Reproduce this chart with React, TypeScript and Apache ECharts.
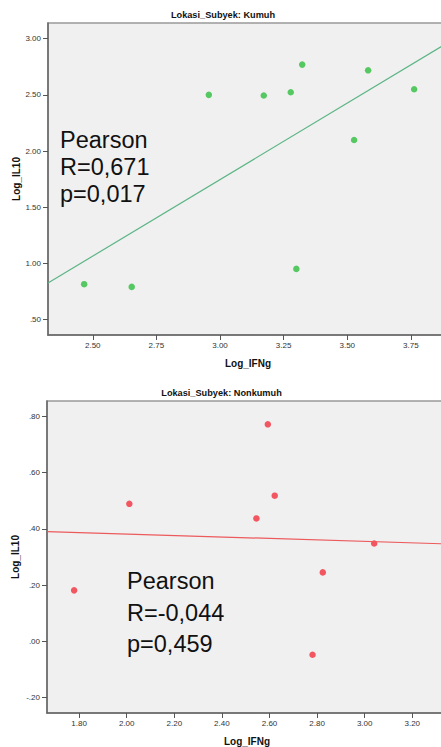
import React, { useEffect, useRef } from "react";
import * as echarts from "echarts";

// ---- Data ----
const kumuhIFNg = [2.956, 3.172, 3.278, 3.323, 3.582, 3.763, 3.527, 2.466, 2.653, 3.3];
const kumuhIL10 = [2.5, 2.494, 2.523, 2.769, 2.718, 2.55, 2.098, 0.816, 0.792, 0.952];
const nonkumuhIFNg = [2.011, 2.593, 2.622, 2.545, 3.04, 1.779, 2.824, 2.781];
const nonkumuhIL10 = [0.489, 0.772, 0.518, 0.437, 0.348, 0.181, 0.245, -0.048];

const kumuhXTicks = [2.5, 2.75, 3.0, 3.25, 3.5, 3.75];
const kumuhYTicks = [0.5, 1.0, 1.5, 2.0, 2.5, 3.0];
const nonkumuhXTicks = [1.8, 2.0, 2.2, 2.4, 2.6, 2.8, 3.0, 3.2];
const nonkumuhYTicks = [-0.2, 0.0, 0.2, 0.4, 0.6, 0.8];

const kumuhXRange = [2.324, 3.896];
const kumuhYRange = [0.364, 3.139];
const nonkumuhXRange = [1.665, 3.346];
const nonkumuhYRange = [-0.2555, 0.855];

const titles = ["Lokasi_Subyek: Kumuh", "Lokasi_Subyek: Nonkumuh"];
const statsKumuh = ["Pearson", "R=0,671", "p=0,017"];
const statsNonkumuh = ["Pearson", "R=-0,044", "p=0,459"];

const FONT = '"Liberation Sans", Arial, Helvetica, sans-serif';

function fit(xs: number[], ys: number[]) {
  const n = xs.length;
  const mx = xs.reduce((a, b) => a + b, 0) / n;
  const my = ys.reduce((a, b) => a + b, 0) / n;
  let sxy = 0;
  let sxx = 0;
  for (let i = 0; i < n; i++) {
    sxy += (xs[i] - mx) * (ys[i] - my);
    sxx += (xs[i] - mx) * (xs[i] - mx);
  }
  const b = sxy / sxx;
  const a = my - b * mx;
  return (x: number) => a + b * x;
}

const fmt = (v: number) => (+v).toFixed(2).replace(/^(-?)0\./, "$1.");

function makeAxis(range: number[], ticks: number[], name: string, isX: boolean, gridIndex: number) {
  return {
    type: "value",
    gridIndex,
    min: range[0],
    max: range[1],
    name,
    nameLocation: "middle",
    nameGap: isX ? 23 : 27,
    nameMoveOverlap: false,
    nameTextStyle: { fontFamily: FONT, fontWeight: "bold", fontSize: 10, color: "#111" },
    axisLine: { show: true, onZero: false, lineStyle: { color: "#666", width: 1.5 } },
    axisTick: { show: true, length: 5, customValues: ticks, lineStyle: { color: "#555", width: 1 } },
    axisLabel: {
      customValues: ticks,
      formatter: fmt,
      fontFamily: FONT,
      fontSize: 8,
      color: "#333",
      margin: isX ? 6 : 7,
    },
    splitLine: { show: false },
  };
}

export default function App() {
  const ref = useRef<HTMLDivElement>(null);
  useEffect(() => {
    if (!ref.current) return;
    const chart = echarts.init(ref.current, undefined, { renderer: "svg" });
    const f1 = fit(kumuhIFNg, kumuhIL10);
    const f2 = fit(nonkumuhIFNg, nonkumuhIL10);
    const option = {
      animation: false,
      backgroundColor: "#ffffff",
      grid: [
        { left: 48, top: 23, width: 400, height: 312, outerBoundsMode: "none", containLabel: false, show: true, backgroundColor: "#f0f0f0", borderColor: "#999", borderWidth: 1.5 },
        { left: 47, top: 401, width: 400, height: 312, outerBoundsMode: "none", containLabel: false, show: true, backgroundColor: "#f0f0f0", borderColor: "#999", borderWidth: 1.5 },
      ],
      xAxis: [
        makeAxis(kumuhXRange, kumuhXTicks, "Log_IFNg", true, 0),
        makeAxis(nonkumuhXRange, nonkumuhXTicks, "Log_IFNg", true, 1),
      ],
      yAxis: [
        makeAxis(kumuhYRange, kumuhYTicks, "Log_IL10", false, 0),
        makeAxis(nonkumuhYRange, nonkumuhYTicks, "Log_IL10", false, 1),
      ],
      series: [
        {
          type: "line",
          xAxisIndex: 0,
          yAxisIndex: 0,
          showSymbol: false,
          silent: true,
          lineStyle: { color: "#5cb585", width: 1.2 },
          data: [
            [kumuhXRange[0], f1(kumuhXRange[0])],
            [kumuhXRange[1], f1(kumuhXRange[1])],
          ],
        },
        {
          type: "scatter",
          xAxisIndex: 0,
          yAxisIndex: 0,
          symbolSize: 6.5,
          itemStyle: { color: "#2fbe3e" },
          data: kumuhIFNg.map((x, i) => [x, kumuhIL10[i]]),
        },
        {
          type: "line",
          xAxisIndex: 1,
          yAxisIndex: 1,
          showSymbol: false,
          silent: true,
          lineStyle: { color: "#ec5a5c", width: 1.2 },
          data: [
            [nonkumuhXRange[0], f2(nonkumuhXRange[0])],
            [nonkumuhXRange[1], f2(nonkumuhXRange[1])],
          ],
        },
        {
          type: "scatter",
          xAxisIndex: 1,
          yAxisIndex: 1,
          symbolSize: 6.5,
          itemStyle: { color: "#f2303c" },
          data: nonkumuhIFNg.map((x, i) => [x, nonkumuhIL10[i]]),
        },
      ],
      graphic: [
        {
          type: "text",
          x: 223,
          y: 15,
          style: { text: titles[0], font: `bold 9.2px ${FONT}`, fill: "#111", align: "center", verticalAlign: "middle" },
        },
        {
          type: "text",
          x: 221.5,
          y: 393,
          style: { text: titles[1], font: `bold 9.2px ${FONT}`, fill: "#111", align: "center", verticalAlign: "middle" },
        },
        {
          type: "text",
          x: 60,
          y: 126,
          z: 10,
          style: { text: statsKumuh.join("\n"), font: `23.5px ${FONT}`, lineHeight: 27, fill: "#111", align: "left", verticalAlign: "top" },
        },
        {
          type: "text",
          x: 127,
          y: 565.5,
          z: 10,
          style: { text: statsNonkumuh.join("\n"), font: `23.5px ${FONT}`, lineHeight: 31.4, fill: "#111", align: "left", verticalAlign: "top" },
        },
      ],
    };
    chart.setOption(option as any);
    return () => chart.dispose();
  }, []);
  return <div ref={ref} style={{ position: "absolute", left: 0, top: 0, width: 441, height: 747, overflow: "hidden" }} />;
}
